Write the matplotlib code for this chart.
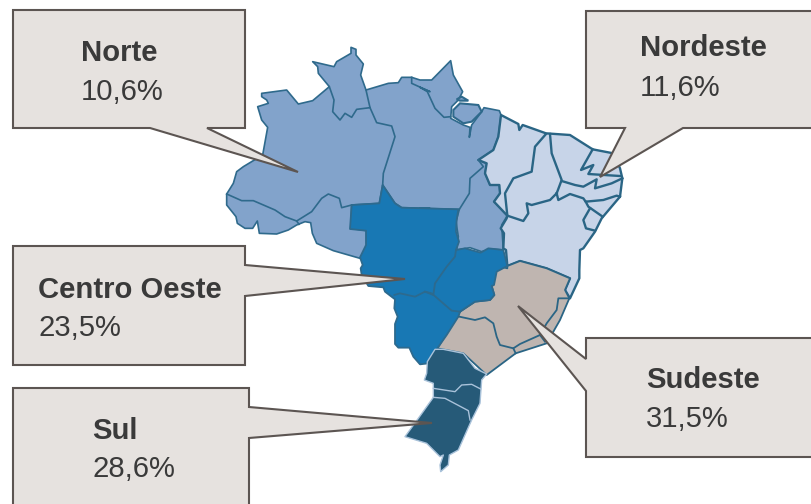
import matplotlib
matplotlib.use("Agg")
import matplotlib.pyplot as plt
from matplotlib.patches import Polygon

plt.rcParams['font.family'] = ['Liberation Sans', 'DejaVu Sans']

# ---- chart content
regions = ["Norte", "Nordeste", "Centro Oeste", "Sudeste", "Sul"]
shares = ["10,6%", "11,6%", "23,5%", "31,5%", "28,6%"]
fills = ["#82a3cb", "#c7d4e8", "#1878b4", "#bfb5b0", "#265a78"]
edges = ["#2f6a8c", "#2a6585", "#2d6a8e", "#2a6585", "#a9c2da"]
widths = [1.2, 1.7, 1.3, 1.3, 1.0]
label_x = [81, 640, 38, 646, 92]
label_y = [53, 48, 290, 380, 431]
value_y = [92, 88, 328, 419, 469]


def fr(x0, y0, pts):
    return [(x0 + a / 3, y0 + b / 3) for a, b in pts]


def z1(p): return fr(220, 40, p)
def z2(p): return fr(420, 50, p)
def z3(p): return fr(350, 200, p)
def z4(p): return fr(390, 340, p)


# ---- map outlines
norte_outline = (
    z1([(393, 22), (408, 28), (408, 45), (430, 72), (422, 105), (438, 150), (505, 130),
        (535, 128), (545, 112), (575, 112)])
    + z2([(0, 90), (35, 90), (92, 32), (100, 75), (128, 125), (115, 150), (95, 170), (92, 205),
          (130, 225), (150, 232), (148, 262), (155, 225), (185, 185), (192, 173), (238, 182),
          (243, 195), (235, 260), (220, 300), (175, 330), (200, 340), (195, 370), (210, 405),
          (238, 405), (240, 430), (222, 455), (262, 497), (245, 525), (250, 600), (215, 597),
          (185, 605), (150, 593), (110, 600), (115, 560), (108, 515), (118, 478), (0, 475)])
    + z1([(630, 505), (545, 503), (525, 490), (488, 435), (478, 490), (395, 495), (392, 565),
          (440, 572), (440, 620), (420, 655), (340, 632), (290, 610), (277, 580), (272, 548),
          (255, 545), (230, 555), (205, 570), (170, 582), (118, 580), (112, 543), (98, 565),
          (75, 565), (52, 550), (48, 530), (20, 495), (20, 462), (40, 430), (50, 395),
          (70, 380), (128, 345), (143, 262), (125, 240), (113, 200), (145, 190), (140, 180),
          (125, 170), (125, 160), (200, 150), (235, 192), (278, 182), (328, 140), (295, 100),
          (293, 80), (278, 65), (342, 80), (350, 65), (393, 40)])
)
marajo = z2([(100, 180), (120, 160), (175, 165), (185, 185), (155, 215), (130, 220), (100, 200)])
islet = z2([(110, 148), (125, 140), (145, 152), (120, 152)])
nordeste_outline = (
    z2([(243, 195), (295, 222), (298, 240), (308, 225), (378, 250), (450, 255), (518, 298),
        (580, 310), (600, 355), (607, 385), (600, 440), (545, 505), (525, 545), (490, 595),
        (480, 600), (478, 660)])
    + z3([(688, 235), (660, 295), (645, 270), (660, 235), (590, 205), (510, 183),
          (472, 198), (468, 150), (460, 145), (462, 100), (452, 85), (470, 55)])
    + z2([(262, 497), (222, 455), (240, 430), (238, 405), (210, 405), (195, 370), (200, 340),
          (175, 330), (220, 300), (235, 260)])
)
centro_outline = (
    z1([(395, 495), (478, 490), (488, 435), (525, 490), (545, 503)])
    + z3([(325, 28), (320, 60), (318, 95), (327, 125), (318, 150), (345, 145), (392, 158),
          (415, 145), (460, 150), (472, 198), (440, 215), (432, 255), (425, 258), (433, 285),
          (420, 300), (375, 305), (330, 335), (325, 350), (290, 405), (262, 445), (235, 490),
          (210, 493), (190, 470), (178, 443), (145, 443), (135, 432), (135, 372), (143, 350),
          (133, 325), (135, 298), (105, 275), (100, 262), (55, 258), (35, 225), (32, 205),
          (38, 195), (30, 172), (48, 135), (48, 92), (0, 87)])
)
sudeste_outline = z3([(472, 198), (510, 183), (590, 205), (660, 235), (645, 270), (658, 295),
                      (630, 360), (590, 430), (497, 460), (410, 525), (340, 460), (262, 445),
                      (330, 335), (375, 305), (420, 300), (433, 285), (425, 258), (432, 225),
                      (447, 198), (472, 205)])
sul_outline = z4([(135, 28), (160, 28), (220, 40), (255, 85), (290, 102), (275, 120), (270, 190),
                  (245, 240), (205, 330), (178, 345), (175, 375), (152, 395), (150, 375),
                  (160, 345), (150, 350), (110, 310), (45, 290), (85, 235), (130, 172),
                  (130, 130), (103, 120), (110, 100), (112, 65)])

norte_lines = [
    z1([(20, 462), (65, 482), (100, 482), (165, 510), (195, 530), (230, 543), (237, 553)]),
    z1([(230, 543), (275, 515), (305, 475), (325, 462), (358, 475), (365, 503), (395, 495)]),
    z1([(328, 140), (342, 180), (338, 215), (360, 240), (375, 220), (395, 232), (410, 208), (450, 203)]),
    z1([(438, 150), (450, 203), (470, 248), (515, 258), (525, 290), (490, 400), (488, 435)]),
    z1([(575, 112), (575, 130), (630, 155)]) + z2([(0, 112), (22, 125), (45, 175), (72, 202), (92, 200)]),
    z2([(118, 478), (148, 430), (150, 385), (190, 350), (175, 330)]),
]
nordeste_lines = [
    z2([(378, 252), (345, 290), (335, 365), (280, 385), (255, 430), (262, 497)]),
    z2([(390, 252), (395, 310), (425, 390), (410, 430)]),
    z2([(262, 497), (310, 513), (325, 490), (320, 460), (335, 465), (390, 450), (410, 430)]),
    z2([(518, 298), (483, 360), (520, 345), (505, 372), (600, 378)]),
    z2([(425, 393), (465, 405), (490, 410), (530, 388), (525, 415), (575, 400), (607, 385)]),
    z2([(410, 430), (415, 450), (450, 432), (490, 445), (497, 455), (550, 450), (590, 437), (600, 440)]),
    z2([(497, 455), (505, 470), (548, 500)]),
    z2([(510, 475), (490, 510), (498, 535), (525, 542)]),
]
centro_lines = [
    z3([(133, 285), (150, 280), (195, 290), (225, 275), (245, 280), (305, 332), (330, 335)]),
    z3([(225, 275), (250, 285), (255, 250), (290, 200), (315, 170), (318, 150)]),
]
sudeste_lines = [
    z3([(328, 350), (375, 360), (405, 352), (430, 370), (440, 410), (450, 435), (490, 445),
        (510, 432), (570, 405), (590, 370), (620, 330), (625, 295), (658, 295)]),
    z3([(497, 460), (490, 445)]),
    z3([(570, 405), (585, 425)]),
]
sul_lines = [
    z4([(130, 145), (195, 155), (215, 135), (245, 133), (272, 147)]),
    z4([(130, 172), (165, 175), (235, 212), (240, 240)]),
]

# ---- callouts
callouts = [
    [(13, 10), (245, 10), (245, 128), (207, 128), (298, 172), (150, 128), (13, 128)],
    [(586, 11), (815, 11), (815, 128), (683, 128), (600, 177), (625, 128), (586, 128)],
    [(13, 246), (245, 246), (245, 265), (405, 279), (245, 296), (245, 365), (13, 365)],
    [(586, 338), (815, 338), (815, 457), (586, 457), (586, 391), (518, 306), (586, 359)],
    [(13, 388), (249, 388), (249, 407), (432, 423), (249, 438), (249, 510), (13, 510)],
]
box_fill = "#e6e2df"
box_edge = "#5c5552"
text_color = "#3a3a3a"

fig = plt.figure(figsize=(8.11, 5.04), dpi=100)
ax = fig.add_axes([0, 0, 1, 1])
ax.set_xlim(0, 811)
ax.set_ylim(504, 0)
ax.axis("off")

outlines = [norte_outline, nordeste_outline, centro_outline, sudeste_outline, sul_outline]
inner = [norte_lines, nordeste_lines, centro_lines, sudeste_lines, sul_lines]
for i in [0, 1, 3, 2, 4]:
    ax.add_patch(Polygon(outlines[i], closed=True, fc=fills[i], ec=edges[i], lw=widths[i], joinstyle="round"))
    for seg in inner[i]:
        xs, ys = zip(*seg)
        ax.plot(xs, ys, color=edges[i], lw=widths[i], solid_joinstyle="round")
for shape in (marajo, islet):
    ax.add_patch(Polygon(shape, closed=True, fc=fills[0], ec=edges[0], lw=1.5))

for shape in callouts:
    ax.add_patch(Polygon(shape, closed=True, fc=box_fill, ec=box_edge, lw=1.5, joinstyle="miter", zorder=5))

for name, share, lx, ly, vy in zip(regions, shares, label_x, label_y, value_y):
    ax.text(lx, ly, name, fontsize=21.1, fontweight="bold", color=text_color, va="center", ha="left", zorder=6)
    ax.text(lx, vy, share, fontsize=21.1, color=text_color, va="center", ha="left", zorder=6)

fig.savefig("out.png", dpi=100)
